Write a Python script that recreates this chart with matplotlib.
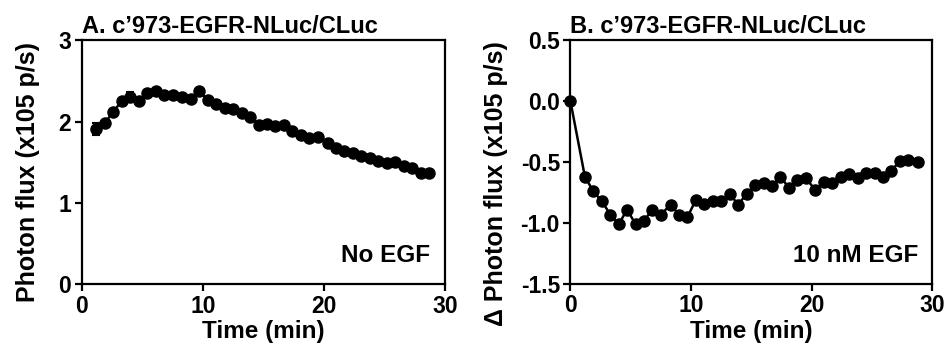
import matplotlib
matplotlib.use("Agg")
import matplotlib.pyplot as plt
import numpy as np

plt.rcParams['font.family'] = ['Liberation Sans', 'DejaVu Sans']
plt.rcParams['font.weight'] = 'bold'

# Panel A: No EGF
time_a = [1.2, 1.9, 2.6, 3.3, 4.0, 4.7, 5.4, 6.1, 6.8, 7.5,
          8.3, 9.0, 9.7, 10.4, 11.1, 11.8, 12.5, 13.2, 13.9, 14.6,
          15.3, 16.0, 16.7, 17.4, 18.1, 18.8, 19.5, 20.3, 21.0, 21.7,
          22.4, 23.1, 23.8, 24.5, 25.2, 25.9, 26.6, 27.3, 28.0, 28.7]
flux_a = [1.91, 1.98, 2.12, 2.25, 2.30, 2.25, 2.35, 2.37, 2.33, 2.33,
          2.30, 2.28, 2.38, 2.26, 2.21, 2.17, 2.15, 2.11, 2.06, 1.96,
          1.97, 1.95, 1.96, 1.88, 1.83, 1.80, 1.81, 1.74, 1.67, 1.64,
          1.61, 1.58, 1.55, 1.52, 1.49, 1.50, 1.45, 1.43, 1.37, 1.37]
err_a = [0.07, 0.0, 0.0, 0.0, 0.06, 0.0, 0.0, 0.0, 0.0, 0.0,
         0.0, 0.0, 0.0, 0.0, 0.0, 0.0, 0.0, 0.0, 0.0, 0.0,
         0.0, 0.0, 0.0, 0.0, 0.0, 0.0, 0.0, 0.0, 0.0, 0.0,
         0.0, 0.0, 0.0, 0.0, 0.0, 0.0, 0.0, 0.0, 0.0, 0.0]

# Panel B: 10 nM EGF (change in flux)
time_b = [0.0, 1.2, 1.9, 2.6, 3.3, 4.0, 4.7, 5.4, 6.1, 6.8,
          7.5, 8.3, 9.0, 9.7, 10.4, 11.1, 11.8, 12.5, 13.2, 13.9,
          14.6, 15.3, 16.0, 16.7, 17.4, 18.1, 18.8, 19.5, 20.3, 21.0,
          21.7, 22.4, 23.1, 23.8, 24.5, 25.2, 25.9, 26.6, 27.3, 28.0,
          28.8]
flux_b = [0.0, -0.62, -0.74, -0.82, -0.93, -1.01, -0.89, -1.01, -0.98, -0.89,
          -0.93, -0.85, -0.93, -0.95, -0.81, -0.84, -0.82, -0.82, -0.76, -0.85,
          -0.76, -0.69, -0.67, -0.70, -0.62, -0.71, -0.65, -0.63, -0.73, -0.66,
          -0.67, -0.62, -0.60, -0.63, -0.59, -0.59, -0.62, -0.57, -0.49, -0.48,
          -0.50]

title_a = "A. c\u2019973-EGFR-NLuc/CLuc"
title_b = "B. c\u2019973-EGFR-NLuc/CLuc"
ylabel_a = "Photon flux (x105 p/s)"
ylabel_b = "\u0394 Photon flux (x105 p/s)"
xlabel = "Time (min)"
note_a = "No EGF"
note_b = "10 nM EGF"
xticks = [0, 10, 20, 30]
yticks_a = [0, 1, 2, 3]
yticks_b = [0.5, 0.0, -0.5, -1.0, -1.5]
yticklabels_b = ["0.5", "0.0", "-0.5", "-1.0", "-1.5"]

fig = plt.figure(figsize=(9.48, 3.43), dpi=100)
axA = fig.add_axes([0.0862, 0.171, 0.3832, 0.712])
axB = fig.add_axes([0.6017, 0.172, 0.3819, 0.711])

def style(ax):
    for s in ax.spines.values():
        s.set_linewidth(1.6)
        s.set_color('black')
    ax.tick_params(direction='out', length=5, width=1.6, labelsize=16.5, pad=2.5)
    for lab in ax.get_xticklabels() + ax.get_yticklabels():
        lab.set_fontweight('bold')

axA.errorbar(time_a, flux_a, yerr=err_a, fmt='-o', color='black', lw=1.8,
             ms=8, capsize=3, elinewidth=1.5, capthick=1.5)
axA.set_xlim(0, 30)
axA.set_ylim(0, 3)
axA.set_xticks(xticks)
axA.set_yticks(yticks_a)
axA.set_xlabel(xlabel, fontsize=17.5, fontweight='bold', labelpad=1.5)
axA.set_ylabel(ylabel_a, fontsize=18, fontweight='bold', labelpad=13)
axA.yaxis.label.set_y(0.46)
axA.set_title(title_a, fontsize=17, fontweight='bold', loc='left', pad=5)
axA.text(0.96, 0.09, note_a, transform=axA.transAxes, ha='right', va='baseline',
         fontsize=17.5, fontweight='bold')
style(axA)

axB.plot(time_b, flux_b, '-o', color='black', lw=1.8, ms=8, clip_on=False, zorder=3)
axB.set_xlim(0, 30)
axB.set_ylim(-1.5, 0.5)
axB.set_xticks(xticks)
axB.set_yticks(yticks_b)
axB.set_yticklabels(yticklabels_b)
axB.set_xlabel(xlabel, fontsize=17.5, fontweight='bold', labelpad=1.5)
axB.set_ylabel(ylabel_b, fontsize=18, fontweight='bold', labelpad=9)
axB.yaxis.label.set_y(0.41)
axB.set_title(title_b, fontsize=17, fontweight='bold', loc='left', pad=5)
axB.text(0.96, 0.09, note_b, transform=axB.transAxes, ha='right', va='baseline',
         fontsize=17.5, fontweight='bold')
style(axB)

fig.savefig("out.png", dpi=100)
